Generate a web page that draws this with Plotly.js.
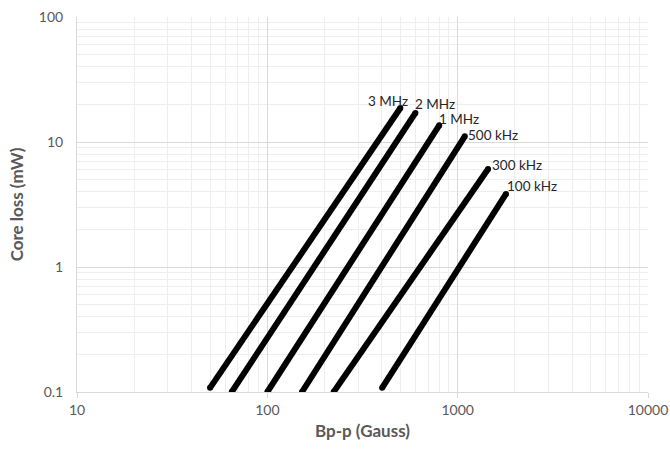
<!DOCTYPE html>
<html><head><meta charset="utf-8">
<script src="https://cdn.plot.ly/plotly-3.0.1.min.js"></script>
<style>html,body{margin:0;padding:0;background:#fff;}#chart{width:670px;height:449px;}</style>
</head><body><div id="chart"></div>
<script>
const seriesNames = ["3 MHz", "2 MHz", "1 MHz", "500 kHz", "300 kHz", "100 kHz"];
const bStart = [50, 65, 100, 152, 223, 401];
const bEnd = [500, 600, 800, 1090, 1445, 1795];
const lossStart = [0.108, 0.1, 0.1, 0.1, 0.1, 0.108];
const lossEnd = [18.7, 17.1, 13.6, 11.1, 6.08, 3.84];
const xTickVals = [10, 100, 1000, 10000];
const xTickText = ["10", "100", "1000", "10000"];
const yTickVals = [0.1, 1, 10, 100];
const yTickText = ["0.1", "1", "10", "100"];

const labelStyle = [
  {xanchor:'right', xshift:9, yshift:7},
  {xanchor:'left', xshift:-1, yshift:8.5},
  {xanchor:'left', xshift:-1, yshift:6},
  {xanchor:'left', xshift:2, yshift:1},
  {xanchor:'left', xshift:3, yshift:4},
  {xanchor:'left', xshift:0, yshift:7.5}
];

const fontFam = 'Lato, "Open Sans", sans-serif';

const traces = seriesNames.map((n, i) => ({
  type: 'scatter', mode: 'lines+markers', name: n,
  x: [bStart[i], bEnd[i]], y: [lossStart[i], lossEnd[i]],
  line: {color: '#000000', width: 6},
  marker: {color: '#000000', size: 6, line: {width: 0}},
  cliponaxis: true,
  showlegend: false, hoverinfo: 'skip'
}));

const annotations = seriesNames.map((n, i) => Object.assign({
  x: Math.log10(bEnd[i]), y: Math.log10(lossEnd[i]),
  xref: 'x', yref: 'y', text: n, showarrow: false,
  yanchor: 'middle', borderpad: 0,
  font: {family: fontFam, size: 13.5, color: '#262626'}
}, labelStyle[i]));

const axisCommon = {
  type: 'log', showline: true, linecolor: '#d9d9d9', linewidth: 1,
  gridcolor: '#d9d9d9', gridwidth: 1, zeroline: false,
  tickfont: {family: fontFam, size: 14, color: '#595959'},
  minor: {showgrid: true, gridcolor: '#eeeeee', gridwidth: 1, dtick: 'D1'}
};

const layout = {
  width: 670, height: 449,
  margin: {l: 77, r: 22, t: 17, b: 57},
  paper_bgcolor: '#ffffff', plot_bgcolor: '#ffffff',
  xaxis: Object.assign({}, axisCommon, {
    range: [1, 4], tickvals: xTickVals, ticktext: xTickText,
    ticks: 'outside', ticklen: 5, tickcolor: '#d9d9d9',
    title: {text: 'Bp-p (Gauss)', standoff: 8,
      font: {family: fontFam, size: 17, color: '#595959', weight: 'bold'}}
  }),
  yaxis: Object.assign({}, axisCommon, {
    range: [-1, 2], tickvals: yTickVals, ticktext: yTickText,
    ticks: '', ticklabelstandoff: 10,
    title: {text: 'Core loss (mW)', standoff: 10,
      font: {family: fontFam, size: 17, color: '#595959', weight: 'bold'}}
  }),
  annotations: annotations
};

Plotly.newPlot('chart', traces, layout, {staticPlot: true, displayModeBar: false});
</script></body></html>
